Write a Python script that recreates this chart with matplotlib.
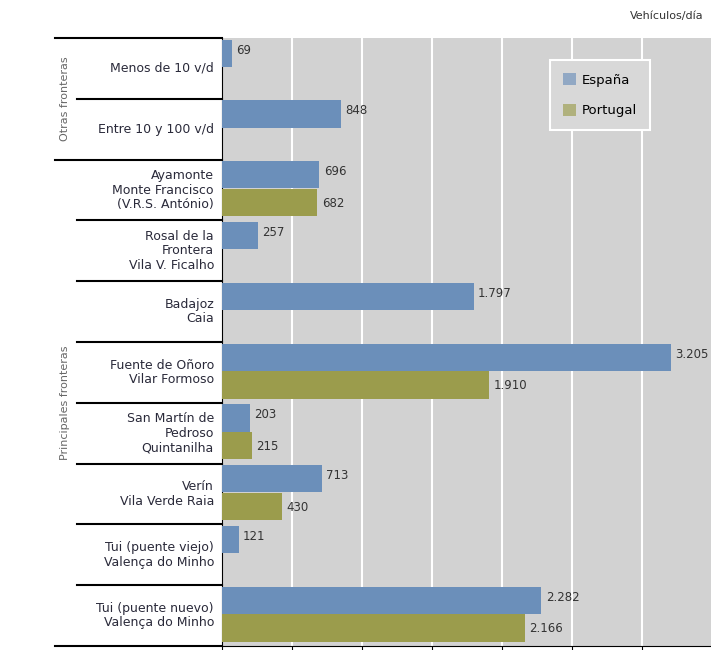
import matplotlib.pyplot as plt
import numpy as np

# data (vehiculos/dia)
categorias = ['Menos de 10 v/d', 'Entre 10 y 100 v/d',
              'Ayamonte\nMonte Francisco\n(V.R.S. António)',
              'Rosal de la\nFrontera\nVila V. Ficalho',
              'Badajoz\nCaia',
              'Fuente de Oñoro\nVilar Formoso',
              'San Martín de\nPedroso\nQuintanilha',
              'Verín\nVila Verde Raia',
              'Tui (puente viejo)\nValença do Minho',
              'Tui (puente nuevo)\nValença do Minho']
espana = [69, 848, 696, 257, 1797, 3205, 203, 713, 121, 2282]
portugal = [None, None, 682, None, None, 1910, 215, 430, None, 2166]
grupos = ['Otras fronteras', 'Principales fronteras']
grupo_filas = [(0, 1), (2, 9)]

col_es = '#6b8fba'
col_pt = '#9b9c4c'


def fmt(v):
    return '{:,}'.format(v).replace(',', '.')


fig = plt.figure(figsize=(7.11, 6.5), dpi=100)
fig.patch.set_facecolor('white')
ax = fig.add_axes([222/711, 4/650, 489/711, 608/650])
ax.set_facecolor('#d2d2d2')

y = np.arange(len(categorias))
h = 0.45
ax.barh(y - 0.25, espana, height=h, color=col_es, label='España', zorder=3)
yp = [i + 0.205 for i, v in enumerate(portugal) if v is not None]
vp = [v for v in portugal if v is not None]
ax.barh(yp, vp, height=h, color=col_pt, label='Portugal', zorder=3)

for i, v in enumerate(espana):
    ax.text(v + 30, i - 0.3, fmt(v), fontsize=8.5, color='#333333', va='center', zorder=4)
for i, v in enumerate(portugal):
    if v is not None:
        ax.text(v + 30, i + 0.22, fmt(v), fontsize=8.5, color='#333333', va='center', zorder=4)

ax.set_xlim(0, 3493)
ax.set_ylim(9.5, -0.5)
ax.set_xticks(np.arange(0, 3500, 500))
ax.set_xticklabels([])
ax.grid(axis='x', color='white', lw=1.5, zorder=1)
ax.tick_params(axis='x', direction='out', length=4, color='black')
ax.set_yticks([])
for s in ['top', 'right']:
    ax.spines[s].set_visible(False)
ax.spines['left'].set_color('black')
ax.spines['bottom'].set_color('black')

# labels and separators in the left area
tr = ax.get_yaxis_transform()
x_lab = (214 - 222) / 489
x_in = (77 - 222) / 489
x_out = (55 - 222) / 489
for i, c in enumerate(categorias):
    ax.text(x_lab, i, c, transform=tr, ha='right', va='center', fontsize=9,
            color='#2a2a3a', linespacing=1.15)
for i in range(len(categorias) + 1):
    yy = i - 0.5
    x0 = x_out if i in (0, 2, 10) else x_in
    ax.plot([x0, 0], [yy, yy], transform=tr, color='black', lw=1.5, clip_on=False)
for g, (a, b) in zip(grupos, grupo_filas):
    ax.text((65 - 222) / 489, (a + b) / 2, g, transform=tr, rotation=90,
            ha='center', va='center', fontsize=8, color='#666666')

leg = ax.legend(loc='upper left', bbox_to_anchor=((550 - 222) / 489, 1 - 22 / 608),
                fontsize=9.5, frameon=True, fancybox=False, handlelength=1.0,
                handleheight=1.0, labelspacing=1.3, borderpad=1.0,
                handletextpad=0.4, borderaxespad=0)
leg.get_frame().set_facecolor('#d8d8d8')
leg.get_frame().set_edgecolor('white')
leg.get_frame().set_linewidth(1.5)
leg.get_frame().set_alpha(1)
for hd in leg.legend_handles:
    hd.set_alpha(0.65)

fig.text(630/711, 1 - 16/650, 'Vehículos/día', fontsize=8, color='#333333', va='center')

plt.savefig('out.png', dpi=100)
